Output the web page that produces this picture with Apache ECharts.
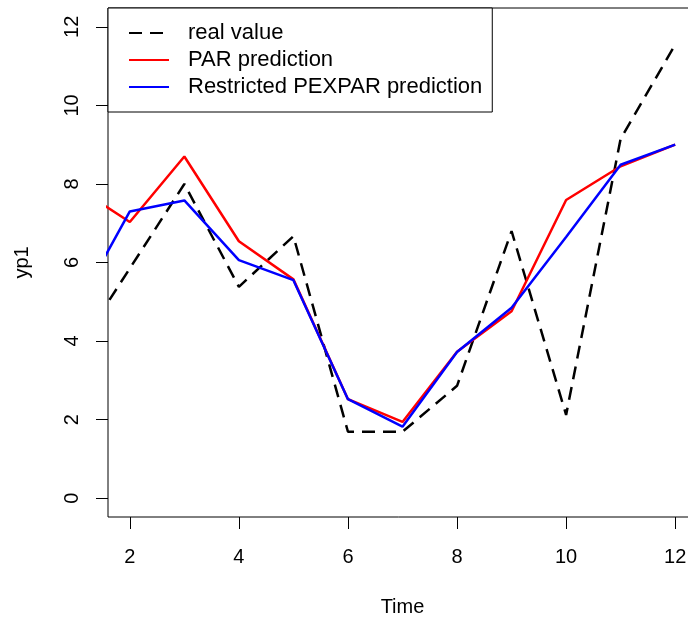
<!DOCTYPE html>
<html>
<head>
<meta charset="utf-8">
<title>yp1</title>
<script src="https://cdn.jsdelivr.net/npm/echarts@6/dist/echarts.min.js"></script>
<style>
  html, body { margin: 0; padding: 0; background: #fff; }
  #chart { width: 688px; height: 621px; }
</style>
</head>
<body>
<div id="chart"></div>
<script>
const time = [1, 2, 3, 4, 5, 6, 7, 8, 9, 10, 11, 12]
const realValue = [3.7, 5.85, 8.0, 5.38, 6.67, 1.69, 1.69, 2.86, 6.8, 2.12, 9.15, 11.55]
const parPrediction = [7.93, 7.03, 8.7, 6.54, 5.57, 2.52, 1.94, 3.73, 4.76, 7.59, 8.45, 9.0]
const pexparPrediction = [4.78, 7.3, 7.58, 6.06, 5.55, 2.52, 1.82, 3.72, 4.85, 6.65, 8.49, 9.0]
const xTicks = [2, 4, 6, 8, 10, 12]
const yTicks = [0, 2, 4, 6, 8, 10, 12]

const font = 'Liberation Sans, Arial, sans-serif'
const pairs = ys => time.map((t, i) => [t, ys[i]])

const chart = echarts.init(document.getElementById('chart'))

chart.setOption({
  animation: false,
  backgroundColor: '#fff',
  textStyle: { fontFamily: font },
  grid: {
    left: 108,
    top: 8,
    width: 589,
    height: 509,
    show: true,
    borderColor: '#000',
    borderWidth: 1,
    outerBoundsMode: 'none'
  },
  legend: {
    orient: 'vertical',
    left: 108,
    top: 8,
    padding: [14, 10, 14, 20],
    itemWidth: 40,
    itemHeight: 14,
    itemGap: 5,
    backgroundColor: '#fff',
    borderColor: '#000',
    borderWidth: 1,
    borderRadius: 0,
    itemStyle: { opacity: 0 },
    textStyle: {
      fontFamily: font,
      fontSize: 22,
      lineHeight: 22,
      color: '#000',
      padding: [0, 0, 0, 14]
    },
    data: ['real value', 'PAR prediction', 'Restricted PEXPAR prediction']
  },
  xAxis: {
    type: 'value',
    min: 1.6,
    max: 12.4,
    name: 'Time',
    nameLocation: 'middle',
    nameGap: 80,
    nameTextStyle: { fontFamily: font, fontSize: 20, color: '#000' },
    axisLine: { show: false, onZero: false },
    splitLine: { show: false },
    axisTick: {
      show: true,
      length: 12,
      customValues: xTicks,
      lineStyle: { color: '#000', width: 1 }
    },
    axisLabel: {
      customValues: xTicks,
      margin: 30,
      fontFamily: font,
      fontSize: 20,
      color: '#000'
    }
  },
  yAxis: {
    type: 'value',
    min: -0.48,
    max: 12.48,
    name: 'yp1',
    nameLocation: 'middle',
    nameGap: 76,
    nameTextStyle: { fontFamily: font, fontSize: 20, color: '#000' },
    axisLine: { show: false, onZero: false },
    splitLine: { show: false },
    axisTick: {
      show: true,
      length: 12,
      customValues: yTicks,
      lineStyle: { color: '#000', width: 1 }
    },
    axisLabel: {
      customValues: yTicks,
      rotate: 90,
      margin: 26,
      fontFamily: font,
      fontSize: 20,
      color: '#000'
    }
  },
  series: [{
    name: 'real value',
    type: 'line',
    data: pairs(realValue),
    showSymbol: false,
    symbol: 'none',
    color: '#000',
    lineStyle: { color: '#000', width: 2.5, type: [13, 8] }
  }, {
    name: 'PAR prediction',
    type: 'line',
    data: pairs(parPrediction),
    showSymbol: false,
    symbol: 'none',
    color: '#ff0000',
    lineStyle: { color: '#ff0000', width: 2.5 }
  }, {
    name: 'Restricted PEXPAR prediction',
    type: 'line',
    data: pairs(pexparPrediction),
    showSymbol: false,
    symbol: 'none',
    color: '#0000ff',
    lineStyle: { color: '#0000ff', width: 2.5 }
  }]
})
</script>
</body>
</html>
